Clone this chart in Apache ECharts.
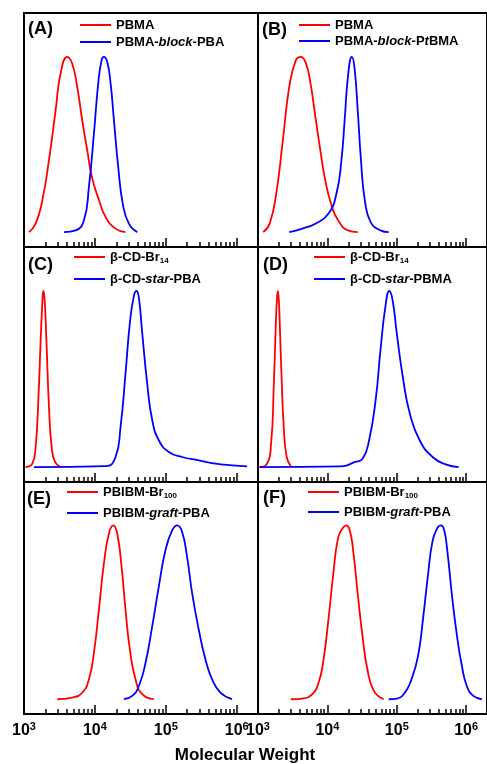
<!DOCTYPE html>
<html>
<head>
<meta charset="utf-8">
<script src="https://cdn.jsdelivr.net/npm/echarts@6/dist/echarts.min.js"></script>
<style>
  html, body { margin: 0; padding: 0; background: #fff; }
  #chart { width: 487px; height: 764px; }
</style>
</head>
<body>
<div id="chart"></div>
<script>
// x values are log10(molecular weight), y values are normalised intensity
const decades = [3, 4, 5, 6];
const minorSteps = [2, 3, 4, 5, 6, 7, 8, 9];
const panelLabels = ['(A)', '(B)', '(C)', '(D)', '(E)', '(F)'];

const aPBMA = [[3.07, 0], [3.164, 0.048], [3.258, 0.18], [3.352, 0.41], [3.446, 0.695], [3.516, 0.905], [3.61, 1.0], [3.68, 0.96], [3.75, 0.83], [3.82, 0.64], [3.89, 0.47], [3.96, 0.31], [4.06, 0.18], [4.15, 0.086], [4.29, 0.02], [4.43, 0]];
const aBlockPBA = [[3.563, 0], [3.728, 0.01], [3.845, 0.067], [3.915, 0.257], [3.986, 0.56], [4.047, 0.85], [4.094, 0.98], [4.127, 1.0], [4.174, 0.97], [4.221, 0.85], [4.268, 0.64], [4.329, 0.37], [4.394, 0.16], [4.479, 0.048], [4.596, 0]];

const bPBMA = [[3.075, 0], [3.169, 0.05], [3.263, 0.22], [3.357, 0.52], [3.451, 0.83], [3.545, 0.98], [3.615, 1.0], [3.685, 0.97], [3.756, 0.85], [3.826, 0.66], [3.897, 0.47], [3.967, 0.3], [4.061, 0.15], [4.155, 0.067], [4.296, 0.01], [4.437, 0]];
const bBlockPtBMA = [[3.451, 0], [3.638, 0.02], [3.826, 0.048], [4.014, 0.105], [4.131, 0.22], [4.202, 0.41], [4.249, 0.64], [4.296, 0.886], [4.352, 1.0], [4.39, 0.94], [4.437, 0.695], [4.484, 0.41], [4.54, 0.18], [4.624, 0.057], [4.765, 0.01], [4.883, 0]];

const cCDBr = [[3.023, 0], [3.117, 0.019], [3.164, 0.114], [3.202, 0.38], [3.235, 0.72], [3.258, 0.93], [3.272, 1.0], [3.291, 0.95], [3.319, 0.686], [3.352, 0.343], [3.39, 0.114], [3.437, 0.029], [3.516, 0]];
const cStarPBA = [[3.141, 0], [4.15, 0.005], [4.291, 0.057], [4.362, 0.229], [4.432, 0.533], [4.493, 0.819], [4.549, 0.971], [4.587, 1.0], [4.62, 0.962], [4.667, 0.762], [4.737, 0.476], [4.808, 0.267], [4.901, 0.152], [5.042, 0.086], [5.23, 0.057], [5.465, 0.038], [5.7, 0.019], [5.934, 0.0095], [6.146, 0.004]];

const dCDBr = [[3.005, 0], [3.122, 0.015], [3.192, 0.152], [3.225, 0.436], [3.254, 0.778], [3.272, 0.95], [3.286, 1.0], [3.3, 0.95], [3.319, 0.75], [3.338, 0.531], [3.371, 0.228], [3.413, 0.057], [3.474, 0.004]];
const dStarPBMA = [[3.028, 0], [4.202, 0.004], [4.39, 0.028], [4.507, 0.047], [4.601, 0.152], [4.695, 0.38], [4.765, 0.664], [4.836, 0.911], [4.892, 1.0], [4.939, 0.949], [5.0, 0.759], [5.094, 0.493], [5.188, 0.304], [5.329, 0.152], [5.516, 0.057], [5.704, 0.015], [5.892, 0]];

const ePBIBMBr = [[3.469, 0], [3.681, 0.0095], [3.822, 0.038], [3.915, 0.114], [3.986, 0.267], [4.056, 0.514], [4.127, 0.781], [4.197, 0.952], [4.258, 1.0], [4.315, 0.952], [4.376, 0.762], [4.432, 0.514], [4.493, 0.286], [4.573, 0.114], [4.667, 0.029], [4.831, 0]];
const eGraftPBA = [[4.408, 0], [4.526, 0.019], [4.62, 0.076], [4.714, 0.21], [4.808, 0.419], [4.901, 0.648], [4.995, 0.857], [5.089, 0.971], [5.16, 1.0], [5.23, 0.962], [5.3, 0.819], [5.371, 0.61], [5.465, 0.4], [5.559, 0.229], [5.653, 0.114], [5.77, 0.038], [5.934, 0]];

const fPBIBMBr = [[3.474, 0], [3.638, 0.004], [3.779, 0.028], [3.873, 0.095], [3.944, 0.228], [4.014, 0.455], [4.085, 0.721], [4.155, 0.93], [4.225, 0.987], [4.272, 1.0], [4.319, 0.977], [4.366, 0.873], [4.437, 0.607], [4.507, 0.36], [4.577, 0.171], [4.671, 0.047], [4.812, 0]];
const fGraftPBA = [[4.883, 0], [5.0, 0.004], [5.117, 0.038], [5.211, 0.114], [5.305, 0.247], [5.376, 0.455], [5.446, 0.702], [5.516, 0.911], [5.587, 0.987], [5.634, 1.0], [5.681, 0.977], [5.728, 0.854], [5.798, 0.588], [5.869, 0.36], [5.939, 0.19], [6.009, 0.076], [6.103, 0.019], [6.225, 0]];

// legend entries, one pair per panel (red first, blue second)
const legendNames = [
  ['PBMA', 'PBMA-{i|block}-PBA'],
  ['PBMA', 'PBMA-{i|block}-P{i|t}BMA'],
  ['β-CD-Br{sub|14}', 'β-CD-{i|star}-PBA'],
  ['β-CD-Br{sub|14}', 'β-CD-{i|star}-PBMA'],
  ['PBIBM-Br{sub|100}', 'PBIBM-{i|graft}-PBA'],
  ['PBIBM-Br{sub|100}', 'PBIBM-{i|graft}-PBA']
];
const panelData = [
  [aPBMA, aBlockPBA], [bPBMA, bBlockPtBMA],
  [cCDBr, cStarPBA], [dCDBr, dStarPBMA],
  [ePBIBMBr, eGraftPBA], [fPBIBMBr, fGraftPBA]
];

const FONT = 'Liberation Sans, Arial, Helvetica, sans-serif';
const RED = '#ff0000';
const BLUE = '#0000ff';

const colLeft = [24, 258];
const colWidth = 234;
const rowTop = [13, 247, 482];
const rowHeight = [234, 235, 232];

// layout of the legends and panel tags
const legendPos = [
  {left: 80, top: 17, gap: 1}, {left: 299, top: 17, gap: 0},
  {left: 74, top: 249, gap: 6}, {left: 314, top: 249, gap: 6},
  {left: 67, top: 484, gap: 5}, {left: 308, top: 484, gap: 4}
];
const tagPos = [[28, 29.5], [262, 30], [28, 265], [263, 265.5], [27, 499], [263, 498]];

const minorValues = [];
decades.slice(0, -1).forEach(d => minorSteps.forEach(m => minorValues.push(d + Math.log10(m))));

const chart = echarts.init(document.getElementById('chart'), null, {renderer: 'canvas'});

const grids = [], xAxes = [], yAxes = [], series = [], legends = [], graphics = [];

for (let p = 0; p < 6; p++) {
  const row = Math.floor(p / 2), col = p % 2;
  const bottomRow = row === 2;
  grids.push({
    left: colLeft[col], top: rowTop[row], width: colWidth, height: rowHeight[row],
    show: true, borderColor: '#000', borderWidth: 2, backgroundColor: 'transparent'
  });
  xAxes.push({
    type: 'value', gridIndex: p, min: 3, max: 6.3, position: 'bottom',
    axisLine: {show: false, onZero: false}, splitLine: {show: false},
    axisTick: {show: true, inside: true, length: 9, customValues: decades,
      lineStyle: {color: '#000', width: 1.5}},
    axisLabel: {
      show: bottomRow, customValues: decades, margin: 7, color: '#000',
      formatter: v => '{b|10}{s|' + v + '}',
      rich: {
        b: {fontFamily: FONT, fontSize: 16, fontWeight: 'bold', color: '#000'},
        s: {fontFamily: FONT, fontSize: 11, fontWeight: 'bold', color: '#000',
          verticalAlign: 'top', padding: [0, 0, 8, 0]}
      }
    }
  });
  xAxes.push({
    type: 'value', gridIndex: p, min: 3, max: 6.3, position: 'bottom',
    axisLine: {show: false, onZero: false}, splitLine: {show: false}, axisLabel: {show: false},
    axisTick: {show: true, inside: true, length: 5, customValues: minorValues,
      lineStyle: {color: '#000', width: 1.5}}
  });
  yAxes.push({type: 'value', gridIndex: p, min: -0.085, max: 1.25, show: false});

  const names = [];
  panelData[p].forEach((d, k) => {
    const name = 'p' + p + 's' + k;
    names.push(name);
    series.push({
      name: name, type: 'line', xAxisIndex: 2 * p, yAxisIndex: p,
      data: d, showSymbol: false, smooth: 0.5,
      lineStyle: {color: k === 0 ? RED : BLUE, width: 1.8},
      itemStyle: {color: k === 0 ? RED : BLUE},
      emphasis: {disabled: true}
    });
  });

  const lp = legendPos[p];
  legends.push({
    data: names, orient: 'vertical', left: lp.left, top: lp.top,
    itemGap: lp.gap, padding: 0, icon: 'rect', itemWidth: 31, itemHeight: 2,
    selectedMode: false,
    formatter: name => legendNames[p][+name.slice(-1)],
    textStyle: {
      fontFamily: FONT, fontSize: 13, fontWeight: 'bold', color: '#000', lineHeight: 16,
      rich: {
        i: {fontFamily: FONT, fontSize: 13, fontWeight: 'bold', fontStyle: 'italic', color: '#000'},
        sub: {fontFamily: FONT, fontSize: 8, fontWeight: 'bold', color: '#000', padding: [7, 0, 0, 0]}
      }
    }
  });

  graphics.push({
    type: 'text', x: tagPos[p][0], y: tagPos[p][1],
    style: {text: panelLabels[p], font: 'bold 18px ' + FONT, fill: '#000', verticalAlign: 'middle'}
  });
}

graphics.push({
  type: 'text', x: 245, y: 755,
  style: {text: 'Molecular Weight', font: 'bold 17px ' + FONT, fill: '#000',
    align: 'center', verticalAlign: 'middle'}
});

chart.setOption({
  animation: false,
  grid: grids,
  xAxis: xAxes,
  yAxis: yAxes,
  legend: legends,
  series: series,
  graphic: graphics
});
</script>
</body>
</html>
